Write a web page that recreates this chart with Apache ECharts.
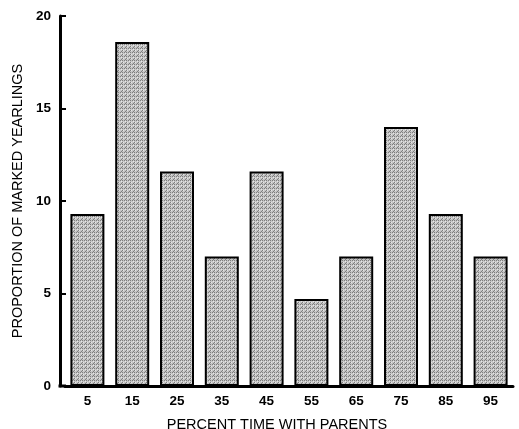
<!DOCTYPE html>
<html><head><meta charset="utf-8">
<script src="https://cdn.jsdelivr.net/npm/echarts@6/dist/echarts.min.js"></script>
<style>html,body{margin:0;padding:0;background:#fff}#c{width:519px;height:429px}</style>
</head><body><div id="c"></div>
<script>
const categories = ['5','15','25','35','45','55','65','75','85','95'];
const proportions = [9.3, 18.6, 11.6, 7.0, 11.6, 4.7, 7.0, 14.0, 9.3, 7.0];
const yTicks = [0, 5, 10, 15, 20];

// stippled gray fill pattern
const pc = document.createElement('canvas');
pc.width = 4; pc.height = 4;
const px = pc.getContext('2d');
px.fillStyle = '#c4c4c4'; px.fillRect(0,0,4,4);
px.fillStyle = '#7e7e7e';
px.fillRect(0,0,1,1); px.fillRect(2,2,1,1); px.fillRect(2,0,1,1); px.fillRect(1,3,1,1);
px.fillStyle = '#e6e6e6';
px.fillRect(1,1,1,1); px.fillRect(3,2,1,1);

const chart = echarts.init(document.getElementById('c'), null, {renderer:'canvas'});
const font = '"Liberation Sans", Arial, Helvetica, sans-serif';
chart.setOption({
  animation: false,
  grid: {left: 65, right: 6, top: 16, bottom: 43, containLabel: false, outerBoundsMode: 'none'},
  xAxis: {
    type: 'category', data: categories,
    name: 'PERCENT TIME WITH PARENTS', nameLocation: 'middle', nameGap: 31,
    nameTextStyle: {fontFamily: font, fontSize: 14.5, color: '#000', padding: [0, 24, 0, 0]},
    axisLine: {lineStyle: {color: '#000', width: 3}},
    axisTick: {show: false},
    axisLabel: {fontFamily: font, fontSize: 13.5, fontWeight: 'bold', color: '#000', margin: 8}
  },
  yAxis: {
    type: 'value', min: yTicks[0], max: yTicks[yTicks.length-1], interval: 5,
    offset: 5,
    name: 'PROPORTION OF MARKED YEARLINGS', nameLocation: 'middle', nameGap: 34,
    nameTextStyle: {fontFamily: font, fontSize: 14.5, color: '#000'},
    axisLine: {show: true, lineStyle: {color: '#000', width: 3}},
    axisTick: {show: true, inside: true, length: 6, lineStyle: {color: '#000', width: 2}},
    splitLine: {show: false},
    axisLabel: {fontFamily: font, fontSize: 13.5, fontWeight: 'bold', color: '#000', margin: 9}
  },
  series: [{
    type: 'bar', data: proportions, barWidth: 34,
    itemStyle: {color: {image: pc, repeat: 'repeat'}, borderColor: '#000', borderWidth: 2}
  }]
});
// close the small gap between the offset y-axis and the x-axis line
const p0 = chart.convertToPixel({gridIndex: 0}, [0, 0]);
chart.setOption({graphic: [{type: 'line', shape: {x1: 58.5, y1: p0[1], x2: 66, y2: p0[1]}, style: {stroke: '#000', lineWidth: 3}}]});
</script></body></html>
